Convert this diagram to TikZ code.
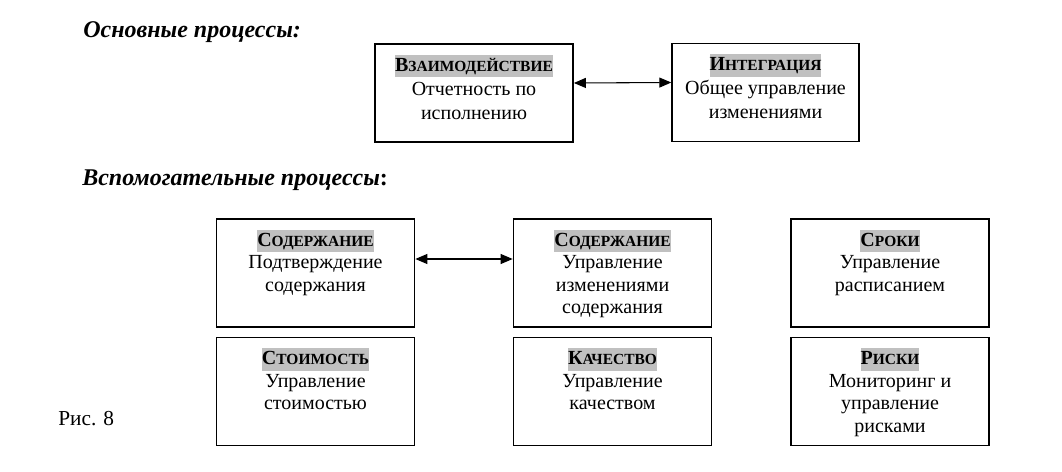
\documentclass[tikz,border=0pt]{standalone}
\usepackage{fontspec}
\setmainfont{Liberation Serif}
\usetikzlibrary{arrows.meta}
\definecolor{hlgray}{RGB}{192,192,192}
% heading in fake small caps on a gray marker
\newcommand\capshead[2]{{\setlength\fboxsep{0pt}\colorbox{hlgray}{\rule[-4.5pt]{0pt}{17pt}\bfseries #1{\fontsize{11.6}{12}\selectfont #2}}}}
% text of a box, set from the top
\newcommand\boxbody[3]{\parbox[c][#2][t]{#1}{\centering\vspace*{8pt}#3\par}}
\tikzset{
  procbox/.style={draw, line width=1.3pt, inner sep=0pt},
  toprow/.style={procbox, font=\fontsize{15}{18}\selectfont},
  lowrow/.style={procbox, font=\fontsize{15}{16.8}\selectfont},
  twoway/.style={{Triangle[length=9pt,width=7.5pt]}-{Triangle[length=9pt,width=7.5pt]}, line width=0.8pt},
  hd/.style={anchor=west, inner sep=0pt, font=\fontsize{18}{20}\selectfont\bfseries}
}
\begin{document}
\begin{tikzpicture}[x=0.75pt,y=-0.75pt]
  \useasboundingbox (0,0) rectangle (1062,471);
  \node[hd] (mainhd) at (83,32) {\itshape Основные процессы:};
  \node[hd] (auxhd) at (82,180) {\textit{Вспомогательные процессы}:};
  \node[anchor=west, inner sep=0pt, font=\fontsize{16}{18}\selectfont] (fig) at (58,419) {Рис. 8};

  \node[toprow] (interact) at (474,93)
    {\boxbody{148.5pt}{73.5pt}{\capshead{В}{ЗАИМОДЕЙСТВИЕ}\\Отчетность по\\исполнению}};
  \node[toprow] (integr) at (765.5,92.5)
    {\boxbody{140pt}{73.5pt}{\capshead{И}{НТЕГРАЦИЯ}\\Общее управление\\изменениями}};

  \node[lowrow] (scopeok) at (315.5,273)
    {\boxbody{148.5pt}{81pt}{\capshead{С}{ОДЕРЖАНИЕ}\\Подтверждение\\содержания}};
  \node[lowrow] (scopechg) at (612.5,273)
    {\boxbody{148.5pt}{81pt}{\capshead{С}{ОДЕРЖАНИЕ}\\Управление\\изменениями\\содержания}};
  \node[lowrow] (sched) at (890,273)
    {\boxbody{148.5pt}{81pt}{\capshead{С}{РОКИ}\\Управление\\расписанием}};
  \node[lowrow] (cost) at (315.5,391.5)
    {\boxbody{148.5pt}{81pt}{\capshead{С}{ТОИМОСТЬ}\\Управление\\стоимостью}};
  \node[lowrow] (qual) at (612.5,391.5)
    {\boxbody{148.5pt}{81pt}{\capshead{К}{АЧЕСТВО}\\Управление\\качеством}};
  \node[lowrow] (risk) at (890,391.5)
    {\boxbody{148.5pt}{81pt}{\capshead{Р}{ИСКИ}\\Мониторинг и\\управление\\рисками}};

  \draw[twoway] ([yshift=7.5pt]interact.east) -- ([yshift=7.5pt]integr.west);
  \draw[twoway] ([yshift=10.5pt]scopeok.east) -- ([yshift=10.5pt]scopechg.west);
\end{tikzpicture}
\end{document}
